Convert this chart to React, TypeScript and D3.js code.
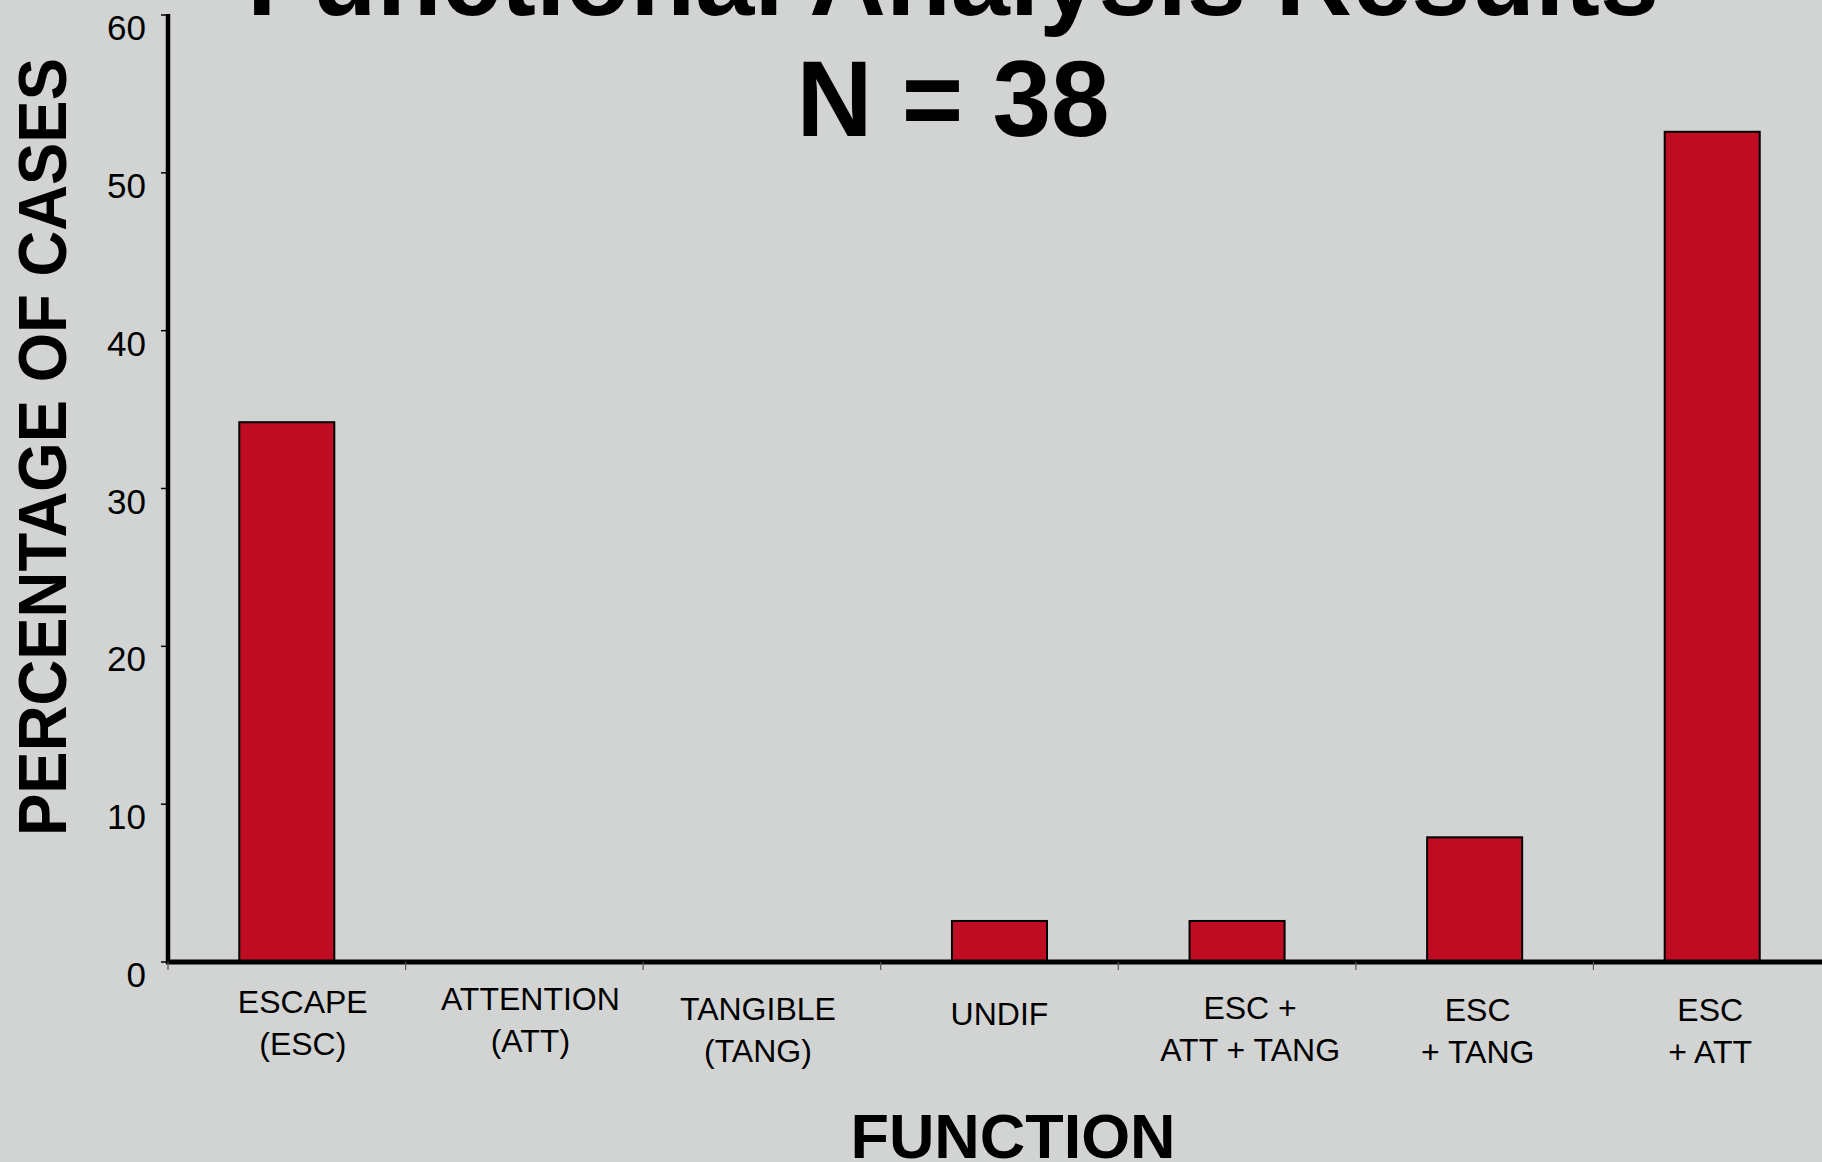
import React from "react";
import * as d3 from "d3";

const categories = ["ESCAPE (ESC)", "ATTENTION (ATT)", "TANGIBLE (TANG)", "UNDIF", "ESC + ATT + TANG", "ESC + TANG", "ESC + ATT"];
const labelLines: string[][] = [
  ["ESCAPE", "(ESC)"],
  ["ATTENTION", "(ATT)"],
  ["TANGIBLE", "(TANG)"],
  ["UNDIF"],
  ["ESC +", "ATT + TANG"],
  ["ESC", "+ TANG"],
  ["ESC", "+ ATT"],
];
const percentages = [34.2, 0, 0, 2.6, 2.6, 7.9, 52.6];
const yTicks = [0, 10, 20, 30, 40, 50, 60];
const titleLine1 = "Functional Analysis Results";
const titleLine2 = "N = 38";
const yTitle = "PERCENTAGE OF CASES";
const xTitle = "FUNCTION";

// layout tweaks for the category label text boxes (pixels)
const labelShift = [
  { dx: 16, dy: -4 },
  { dx: 6, dy: -7 },
  { dx: -4, dy: 3 },
  { dx: 0, dy: 8 },
  { dx: 13, dy: 2 },
  { dx: 3, dy: 4 },
  { dx: -2, dy: 4 },
];

const W = 1822;
const H = 1162;
const FONT = "'Liberation Sans', Arial, Helvetica, sans-serif";

export default function App() {
  const left = 168;
  const right = 1831;
  const top = 15;
  const bottom = 962;

  const x = d3.scaleBand<string>().domain(categories).range([left, right]).padding(0);
  const y = d3.scaleLinear().domain([0, 60]).range([bottom, top]);
  const bw = x.bandwidth();
  const barW = bw * 0.4;

  return (
    <svg
      width={W}
      height={H}
      style={{ position: "absolute", left: 0, top: 0, display: "block" }}
      fontFamily={FONT}
    >
      <rect x={0} y={0} width={W} height={H} fill="#D2D4D3" />

      {/* Title */}
      <text x={953} y={15} textAnchor="middle" fontSize={107} fontWeight="bold" fill="#000" textLength={1412} lengthAdjust="spacingAndGlyphs">
        {titleLine1}
      </text>
      <text x={953} y={136} textAnchor="middle" fontSize={108} fontWeight="bold" fill="#000" textLength={313} lengthAdjust="spacingAndGlyphs">
        {titleLine2}
      </text>

      {/* Bars */}
      {categories.map((c, i) =>
        percentages[i] > 0 ? (
          <rect
            key={c}
            x={(x(c) as number) + (bw - barW) / 2}
            y={y(percentages[i])}
            width={barW}
            height={y(0) - y(percentages[i])}
            fill="#BE0C22"
            stroke="#000"
            strokeWidth={2}
          />
        ) : null
      )}

      {/* Y axis */}
      <line x1={left} x2={left} y1={top - 1} y2={bottom + 2} stroke="#000" strokeWidth={4.5} />
      {yTicks.map((t) => (
        <g key={t}>
          <line x1={left - 7} x2={left} y1={y(t)} y2={y(t)} stroke="#000" strokeWidth={1.5} />
          <text x={146} y={y(t) + 25} textAnchor="end" fontSize={35} fill="#000">
            {t}
          </text>
        </g>
      ))}

      {/* X axis */}
      <line x1={left - 2} x2={W} y1={bottom} y2={bottom} stroke="#000" strokeWidth={5} />
      {categories.map((c) => (
        <line key={c} x1={x(c) as number} x2={x(c) as number} y1={bottom} y2={bottom + 8} stroke="#555" strokeWidth={1.2} />
      ))}
      <line x1={right} x2={right} y1={bottom} y2={bottom + 8} stroke="#555" strokeWidth={1.2} />

      {/* Category labels */}
      {categories.map((c, i) => {
        const cx = (x(c) as number) + bw / 2 + labelShift[i].dx;
        return (
          <text key={c} textAnchor="middle" fontSize={32} fill="#000">
            {labelLines[i].map((ln, j) => (
              <tspan key={j} x={cx} y={1017 + labelShift[i].dy + j * 42}>
                {ln}
              </tspan>
            ))}
          </text>
        );
      })}

      {/* Axis titles */}
      <text
        transform="translate(66,447) rotate(-90)"
        textAnchor="middle"
        fontSize={68}
        fontWeight="bold"
        fill="#000"
        textLength={778}
        lengthAdjust="spacingAndGlyphs"
      >
        {yTitle}
      </text>
      <text x={1013} y={1158} textAnchor="middle" fontSize={63} fontWeight="bold" fill="#000" textLength={325} lengthAdjust="spacingAndGlyphs">
        {xTitle}
      </text>
    </svg>
  );
}
